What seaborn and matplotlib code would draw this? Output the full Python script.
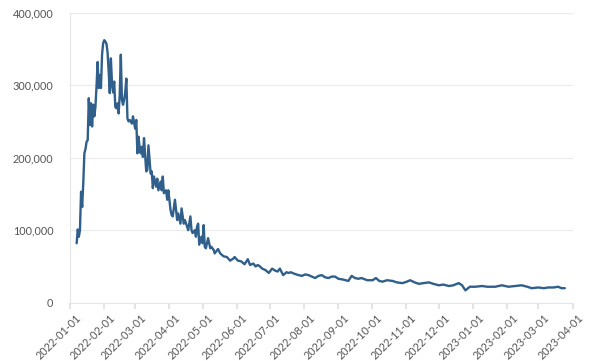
import matplotlib
matplotlib.use("Agg")
import matplotlib.pyplot as plt
import matplotlib.dates as mdates
import matplotlib.ticker as mticker
import matplotlib.transforms as mtransforms
import seaborn as sns
import pandas as pd

dates = [
    "2022-01-07", "2022-01-08", "2022-01-09", "2022-01-10", "2022-01-11", "2022-01-12",
    "2022-01-13", "2022-01-14", "2022-01-15", "2022-01-16", "2022-01-17", "2022-01-18",
    "2022-01-19", "2022-01-20", "2022-01-21", "2022-01-22", "2022-01-23", "2022-01-24",
    "2022-01-25", "2022-01-26", "2022-01-27", "2022-01-28", "2022-01-29", "2022-01-30",
    "2022-01-31", "2022-02-01", "2022-02-02", "2022-02-03", "2022-02-04", "2022-02-05",
    "2022-02-06", "2022-02-07", "2022-02-08", "2022-02-09", "2022-02-10", "2022-02-11",
    "2022-02-12", "2022-02-13", "2022-02-14", "2022-02-15", "2022-02-16", "2022-02-17",
    "2022-02-18", "2022-02-19", "2022-02-20", "2022-02-21", "2022-02-22", "2022-02-23",
    "2022-02-24", "2022-02-26", "2022-02-27", "2022-03-01", "2022-03-02", "2022-03-03",
    "2022-03-04", "2022-03-05", "2022-03-06", "2022-03-07", "2022-03-08", "2022-03-09",
    "2022-03-11", "2022-03-12", "2022-03-13", "2022-03-15", "2022-03-16", "2022-03-17",
    "2022-03-18", "2022-03-20", "2022-03-21", "2022-03-22", "2022-03-24", "2022-03-25",
    "2022-03-26", "2022-03-27", "2022-03-29", "2022-03-30", "2022-03-31", "2022-04-02",
    "2022-04-03", "2022-04-04", "2022-04-06", "2022-04-08", "2022-04-09", "2022-04-11",
    "2022-04-12", "2022-04-14", "2022-04-15", "2022-04-17", "2022-04-18", "2022-04-20",
    "2022-04-21", "2022-04-22", "2022-04-24", "2022-04-25", "2022-04-26", "2022-04-27",
    "2022-04-28", "2022-04-30", "2022-05-01", "2022-05-02", "2022-05-03", "2022-05-04",
    "2022-05-06", "2022-05-08", "2022-05-09", "2022-05-11", "2022-05-12", "2022-05-15",
    "2022-05-17", "2022-05-20", "2022-05-23", "2022-05-26", "2022-05-29", "2022-05-30",
    "2022-06-02", "2022-06-05", "2022-06-08", "2022-06-11", "2022-06-13", "2022-06-16",
    "2022-06-18", "2022-06-20", "2022-06-22", "2022-06-24", "2022-06-27", "2022-06-30",
    "2022-07-03", "2022-07-06", "2022-07-08", "2022-07-10", "2022-07-13", "2022-07-16",
    "2022-07-18", "2022-07-20", "2022-07-23", "2022-07-27", "2022-07-30", "2022-08-02",
    "2022-08-05", "2022-08-08", "2022-08-11", "2022-08-14", "2022-08-17", "2022-08-20",
    "2022-08-23", "2022-08-26", "2022-08-29", "2022-09-01", "2022-09-05", "2022-09-10",
    "2022-09-13", "2022-09-16", "2022-09-19", "2022-09-22", "2022-09-27", "2022-10-02",
    "2022-10-05", "2022-10-08", "2022-10-11", "2022-10-15", "2022-10-20", "2022-10-24",
    "2022-10-29", "2022-11-02", "2022-11-05", "2022-11-09", "2022-11-13", "2022-11-17",
    "2022-11-22", "2022-11-26", "2022-12-01", "2022-12-05", "2022-12-10", "2022-12-14",
    "2022-12-19", "2022-12-22", "2022-12-25", "2022-12-29", "2023-01-03", "2023-01-09",
    "2023-01-14", "2023-01-21", "2023-01-27", "2023-02-02", "2023-02-08", "2023-02-14",
    "2023-02-19", "2023-02-23", "2023-03-01", "2023-03-06", "2023-03-10", "2023-03-15",
    "2023-03-19", "2023-03-22", "2023-03-25",
]
cases = [
    82000, 101000, 91000, 100000, 153000, 132000,
    165000, 206000, 212000, 222000, 224000, 282000,
    245000, 275000, 243000, 273000, 257000, 270000,
    298000, 332000, 296000, 314000, 296000, 342000,
    358000, 362000, 360000, 357000, 345000, 319000,
    289000, 337000, 302000, 290000, 305000, 270000,
    268000, 275000, 261000, 286000, 342000, 280000,
    273000, 280000, 290000, 309000, 254000, 250000,
    252000, 247000, 257000, 240000, 252000, 206000,
    229000, 215000, 206000, 215000, 201000, 227000,
    181000, 183000, 217000, 178000, 181000, 158000,
    174000, 160000, 171000, 155000, 167000, 155000,
    174000, 151000, 155000, 142000, 155000, 128000,
    121000, 119000, 142000, 114000, 123000, 109000,
    130000, 109000, 114000, 105000, 100000, 119000,
    100000, 96000, 100000, 91000, 105000, 109000,
    80000, 91000, 82000, 107000, 77000, 75000,
    89000, 75000, 77000, 73000, 68000, 74000,
    68000, 64000, 63000, 58000, 61000, 63000,
    58000, 57000, 53000, 60000, 52000, 54000,
    50000, 52000, 50000, 47000, 45000, 41000,
    47000, 44000, 43000, 47000, 38000, 42000,
    41000, 42000, 40000, 38000, 37000, 39000,
    38000, 36000, 34000, 37000, 38000, 35000,
    34000, 36000, 36000, 33000, 32000, 30000,
    37000, 34000, 33000, 34000, 31000, 31000,
    34000, 30000, 29000, 31000, 30000, 28000,
    27000, 29000, 31000, 28000, 26000, 27000,
    28000, 26000, 24000, 25000, 23000, 24000,
    27000, 24000, 17000, 22000, 22000, 23000,
    22000, 22000, 24000, 22000, 23000, 24000,
    22000, 20000, 21000, 20000, 21000, 21000,
    22000, 20000, 20000,
]

df = pd.DataFrame({"date": pd.to_datetime(dates), "cases": cases})

sns.set_theme(style="whitegrid")
plt.rcParams["font.family"] = ["Lato", "DejaVu Sans"]

fig = plt.figure(figsize=(6, 3.61), dpi=100)
ax = fig.add_axes([0.1167, 0.1615, 0.8375, 0.8035])

sns.lineplot(data=df, x="date", y="cases", ax=ax, color="#2f5f8a", linewidth=1.7)

ax.set_xlim(pd.Timestamp("2022-01-01"), pd.Timestamp("2023-04-01"))
ax.set_ylim(0, 400000)
ax.set_xlabel("")
ax.set_ylabel("")

ax.xaxis.set_major_locator(mdates.MonthLocator())
ax.xaxis.set_major_formatter(mdates.DateFormatter("%Y-%m-%d"))
ax.yaxis.set_major_locator(mticker.MultipleLocator(100000))
ax.yaxis.set_major_formatter(mticker.FuncFormatter(lambda v, p: f"{int(v):,}"))

ax.grid(axis="x", visible=False)
ax.grid(axis="y", color="#ebebeb", linewidth=0.8)
for s in ["top", "right"]:
    ax.spines[s].set_visible(False)
for s in ["left", "bottom"]:
    ax.spines[s].set_color("#e6e6e6")
    ax.spines[s].set_linewidth(0.8)

ax.tick_params(axis="x", bottom=True, length=4, color="#e0e0e0", labelsize=7.8,
               labelcolor="#555555", pad=3)
ax.tick_params(axis="y", left=False, labelsize=7.8, labelcolor="#555555", pad=6)
shift = mtransforms.ScaledTranslation(5 / 100, 0, fig.dpi_scale_trans)
for lbl in ax.get_xticklabels():
    lbl.set_rotation(45)
    lbl.set_ha("right")
    lbl.set_rotation_mode("anchor")
    lbl.set_transform(lbl.get_transform() + shift)

fig.savefig("out.png", dpi=100)
